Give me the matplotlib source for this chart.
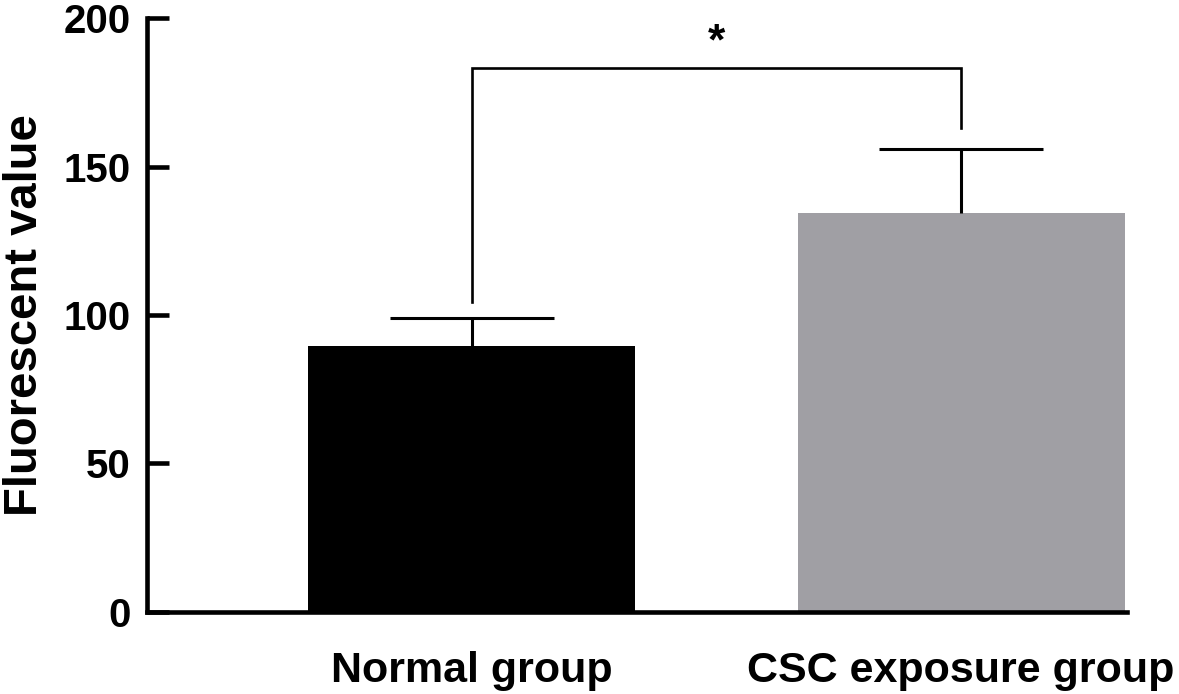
import matplotlib.pyplot as plt
import numpy as np

plt.rcParams['font.family'] = ['Liberation Sans', 'DejaVu Sans']
plt.rcParams['font.weight'] = 'bold'

groups = ['Normal group', 'CSC exposure group']
means = [89.5, 134.3]
sd = [9.5, 21.6]
colors = ['#000000', '#a09fa4']

# significance bracket
bracket_top = 183.2
bracket_legs = [104.4, 163.0]
sig_label = '*'

fig = plt.figure(figsize=(11.79, 6.94), dpi=100)
ax = fig.add_axes([0.1247, 0.1182, 0.956 - 0.1247, 0.974 - 0.1182])

x = np.arange(len(groups))
ax.bar(x, means, width=0.668, color=colors, zorder=2)
eb = ax.errorbar(x, means, yerr=[np.zeros(len(sd)), sd], fmt='none', ecolor='black',
                 elinewidth=2.2, capsize=58.7, capthick=2.2, zorder=3)
# only the upper cap is shown
eb[1][0].set_visible(False)

# bracket
ax.plot([x[0], x[0], x[1], x[1]],
        [bracket_legs[0], bracket_top, bracket_top, bracket_legs[1]],
        color='black', lw=1.9, solid_joinstyle='miter', zorder=3)
ax.text((x[0] + x[1]) / 2, 191.5, sig_label, ha='center', va='center',
        fontsize=32, fontweight='bold')

ax.set_xlim(-0.663, 1.339)
ax.set_ylim(0, 200)
ax.set_yticks([0, 50, 100, 150, 200])
ax.set_xticks(x)
ax.set_xticklabels(groups, fontsize=31, fontweight='bold')
ax.set_ylabel('Fluorescent value', fontsize=34, fontweight='bold', labelpad=12)

for s in ['top', 'right']:
    ax.spines[s].set_visible(False)
for s in ['left', 'bottom']:
    ax.spines[s].set_linewidth(3.3)

ax.tick_params(axis='y', direction='in', length=16, width=3.3, labelsize=29, pad=12)
ax.tick_params(axis='x', length=0, pad=28)
for lab in ax.get_yticklabels():
    lab.set_fontweight('bold')

fig.savefig('out.png', dpi=100)
